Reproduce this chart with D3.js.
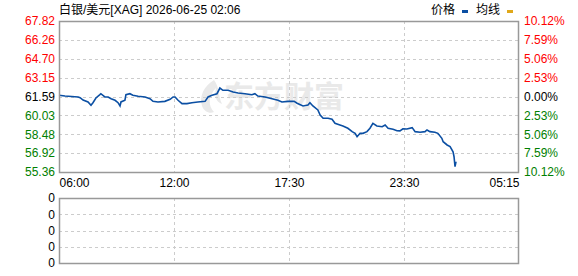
<!DOCTYPE html>
<html>
<head>
<meta charset="utf-8">
<script src="https://cdn.jsdelivr.net/npm/d3@7"></script>
<style>
  html, body { margin: 0; padding: 0; background: #fff; }
  svg text { font-family: "Liberation Sans", Arial, "Noto Sans CJK SC", sans-serif; font-size: 12px; }
</style>
</head>
<body>
<div id="chart"></div>
<script>
// minutes after 06:00
var minutes = [0, 18, 58, 64, 73, 88, 97, 103, 112, 124, 127, 139, 149, 158, 170, 179, 185, 188, 200, 203,
    215, 224, 240, 261, 276, 285, 300, 321, 337, 346, 352, 361, 373, 388, 403, 421, 443, 452, 464, 479,
    488, 497, 513, 528, 543, 564, 585, 594, 603, 625, 646, 664, 676, 694, 713, 722, 740, 755, 761, 770,
    785, 792, 801, 816, 828, 837, 852, 861, 876, 889, 898, 904, 913, 922, 934, 943, 952, 964, 980, 989,
    998, 1013, 1025, 1034, 1043, 1055, 1071, 1080, 1095, 1110, 1116, 1125, 1140, 1149, 1161, 1165, 1177,
    1186, 1195, 1198, 1201, 1204];
var prices = [61.69, 61.63, 61.55, 61.49, 61.30, 61.14, 60.86, 61.08, 61.47, 61.74, 61.82, 61.55, 61.55, 61.41,
    61.28, 61.08, 60.81, 61.14, 61.28, 61.74, 61.82, 61.69, 61.61, 61.55, 61.41, 61.19, 61.14, 61.19, 61.36,
    61.55, 61.55, 61.28, 61.00, 61.00, 61.08, 61.14, 61.19, 61.55, 61.69, 61.82, 62.29, 62.10, 62.10, 61.96,
    61.88, 61.82, 61.74, 61.82, 61.63, 61.55, 61.41, 61.28, 61.14, 61.19, 61.19, 61.03, 60.81, 60.89, 61.08,
    60.81, 60.48, 60.06, 59.79, 59.79, 59.71, 59.38, 59.24, 59.16, 58.97, 58.69, 58.55, 58.27, 58.55, 58.55,
    58.69, 58.97, 59.38, 59.16, 59.10, 59.24, 58.97, 58.88, 58.77, 58.75, 58.93, 58.91, 59.02, 58.69, 58.64,
    58.69, 58.83, 58.69, 58.64, 58.55, 58.14, 57.86, 57.59, 57.45, 57.03, 56.62, 55.80, 56.21];

var priceLabels = ["67.82", "66.26", "64.70", "63.15", "61.59", "60.03", "58.48", "56.92", "55.36"];
var pctLabels = ["10.12%", "7.59%", "5.06%", "2.53%", "0.00%", "2.53%", "5.06%", "7.59%", "10.12%"];
var timeLabels = ["06:00", "12:00", "17:30", "23:30", "05:15"];
var volLabels = ["0", "0", "0", "0", "0"];

var W = 578, H = 276,
    pLeft = 59, pRight = 519,
    pTop = 21, pBottom = 172,
    vTop = 198, vBottom = 263,
    totalMin = 1395,
    gridColor = "#cccccc", frameColor = "#999999",
    upColor = "#ff0000", downColor = "#008000", lineColor = "#0b4fa3";

var svg = d3.select("#chart").append("svg").attr("width", W).attr("height", H);

var x = d3.scaleLinear().domain([0, totalMin]).range([pLeft, pRight]);
var y = d3.scaleLinear().domain([55.36, 67.82]).range([pBottom, pTop]);
var yIdx = d3.scaleLinear().domain([0, priceLabels.length - 1]).range([pTop, pBottom]);
var yVol = d3.scaleLinear().domain([0, volLabels.length - 1]).range([vTop, vBottom]);
var xIdx = d3.scaleLinear().domain([0, timeLabels.length - 1]).range([pLeft, pRight]);

function labelColor(i, n) {
    var mid = (n - 1) / 2;
    return i < mid ? upColor : (i > mid ? downColor : "#000");
}

// watermark
var wm = svg.append("g").attr("fill", "#e9e9e9");
wm.append("path")
    .attr("d", "M214,80 C204,86 199,96 202,106 C204,112 210,114 214,112 C208,106 208,96 216,88 C214,96 216,102 222,104 C218,96 220,88 214,80 Z");
wm.append("text").attr("x", 224).attr("y", 107)
    .style("font-family", "'Noto Sans CJK SC', sans-serif").style("font-size", "30px").style("font-weight", "bold")
    .text("东方财富");

// main grid
var grid = svg.append("g").attr("stroke", gridColor).attr("stroke-dasharray", "3,3").attr("shape-rendering", "crispEdges");
grid.selectAll("line.h").data(d3.range(1, priceLabels.length - 1)).enter().append("line")
    .attr("x1", pLeft).attr("x2", pRight)
    .attr("y1", function (d) { return Math.round(yIdx(d)) + 0.5; })
    .attr("y2", function (d) { return Math.round(yIdx(d)) + 0.5; });
grid.selectAll("line.v").data(d3.range(1, timeLabels.length - 1)).enter().append("line")
    .attr("y1", pTop).attr("y2", pBottom)
    .attr("x1", function (d) { return Math.round(xIdx(d)) + 0.5; })
    .attr("x2", function (d) { return Math.round(xIdx(d)) + 0.5; });

// volume grid
var vgrid = svg.append("g").attr("stroke", gridColor).attr("stroke-dasharray", "3,3").attr("shape-rendering", "crispEdges");
vgrid.selectAll("line.h").data(d3.range(1, volLabels.length - 1)).enter().append("line")
    .attr("x1", pLeft).attr("x2", pRight)
    .attr("y1", function (d) { return Math.round(yVol(d)) + 0.5; })
    .attr("y2", function (d) { return Math.round(yVol(d)) + 0.5; });
vgrid.selectAll("line.v").data(d3.range(1, timeLabels.length - 1)).enter().append("line")
    .attr("y1", vTop).attr("y2", vBottom)
    .attr("x1", function (d) { return Math.round(xIdx(d)) + 0.5; })
    .attr("x2", function (d) { return Math.round(xIdx(d)) + 0.5; });

// price line
var line = d3.line()
    .x(function (d, i) { return x(minutes[i]); })
    .y(function (d) { return y(d); });
svg.append("path").datum(prices)
    .attr("fill", "none").attr("stroke", lineColor).attr("stroke-width", 1.6)
    .attr("stroke-linejoin", "miter")
    .attr("d", line);

// frames
svg.append("rect").attr("x", pLeft + 0.5).attr("y", pTop + 0.5)
    .attr("width", pRight - pLeft - 1).attr("height", pBottom - pTop)
    .attr("fill", "none").attr("stroke", frameColor).attr("stroke-width", 1.5);
svg.append("rect").attr("x", pLeft + 0.5).attr("y", vTop + 0.5)
    .attr("width", pRight - pLeft - 1).attr("height", vBottom - vTop)
    .attr("fill", "none").attr("stroke", frameColor).attr("stroke-width", 1.5);

// axes
var axL = d3.axisLeft(yIdx).tickValues(d3.range(priceLabels.length))
    .tickFormat(function (d) { return priceLabels[d]; }).tickSize(0).tickPadding(4);
var gL = svg.append("g").attr("transform", "translate(" + pLeft + ",0)").call(axL);
gL.select(".domain").remove();
gL.selectAll("text").style("font-size", "12px")
    .attr("fill", function (d) { return labelColor(d, priceLabels.length); });

var axR = d3.axisRight(yIdx).tickValues(d3.range(pctLabels.length))
    .tickFormat(function (d) { return pctLabels[d]; }).tickSize(0).tickPadding(5);
var gR = svg.append("g").attr("transform", "translate(" + pRight + ",0)").call(axR);
gR.select(".domain").remove();
gR.selectAll("text").style("font-size", "12px")
    .attr("fill", function (d) { return labelColor(d, pctLabels.length); });

var axB = d3.axisBottom(xIdx).tickValues(d3.range(timeLabels.length))
    .tickFormat(function (d) { return timeLabels[d]; }).tickSize(0).tickPadding(6);
var gB = svg.append("g").attr("transform", "translate(0," + pBottom + ")").call(axB);
gB.select(".domain").remove();
gB.selectAll("text").style("font-size", "12px").attr("fill", "#000")
    .attr("text-anchor", function (d) { return d === 0 ? "start" : (d === timeLabels.length - 1 ? "end" : "middle"); });

var axV = d3.axisLeft(yVol).tickValues(d3.range(volLabels.length))
    .tickFormat(function (d) { return volLabels[d]; }).tickSize(0).tickPadding(4);
var gV = svg.append("g").attr("transform", "translate(" + pLeft + ",0)").call(axV);
gV.select(".domain").remove();
gV.selectAll("text").style("font-size", "12px").attr("fill", "#000");

// title + legend
svg.append("text").attr("x", 59).attr("y", 14).attr("fill", "#000").text("白银/美元[XAG] 2026-06-25 02:06");
svg.append("text").attr("x", 431).attr("y", 14).attr("fill", "#000").text("价格");
svg.append("rect").attr("x", 462).attr("y", 10).attr("width", 6).attr("height", 3).attr("fill", "#0b4fa3");
svg.append("text").attr("x", 476).attr("y", 14).attr("fill", "#000").text("均线");
svg.append("rect").attr("x", 507).attr("y", 10).attr("width", 6).attr("height", 3).attr("fill", "#e0a81a");
</script>
</body>
</html>
